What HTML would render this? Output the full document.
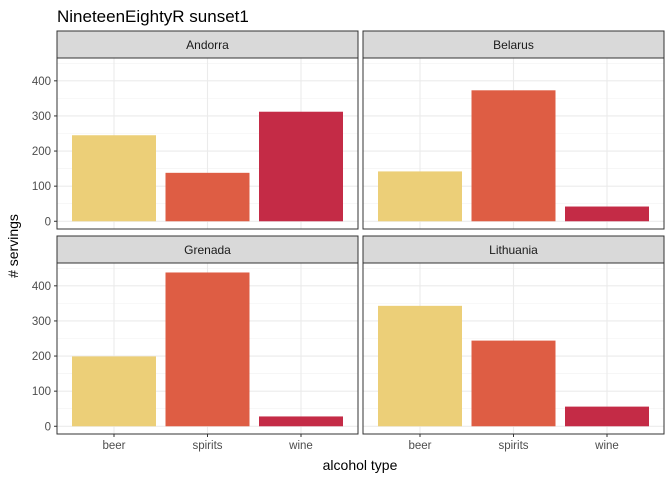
<!DOCTYPE html>
<html><head><meta charset="utf-8">
<style>
body{margin:0;background:#fff;}
svg{display:block;font-family:"Liberation Sans",sans-serif;}
</style></head>
<body>
<svg id="chart" width="672" height="480">
<text x="57" y="22" font-size="17" fill="#000">NineteenEightyR sunset1</text>
<text x="360" y="470" font-size="14" text-anchor="middle" fill="#000">alcohol type</text>
<text transform="translate(18,246) rotate(-90)" font-size="14" text-anchor="middle" fill="#000"># servings</text>
</svg>
<script>
const countries = ["Andorra","Belarus","Grenada","Lithuania"];
const categories = ["beer","spirits","wine"];
const beer = [245,142,199,343];
const spirits = [138,373,438,244];
const wine = [312,42,28,56];
const yTicks = [0,100,200,300,400];
const colors = ["#ECCF78","#DE5D44","#C42B46"];
const series=[beer,spirits,wine];
const svg=document.getElementById('chart');
const NS="http://www.w3.org/2000/svg";
function mk(t,a,p){const e=document.createElementNS(NS,t);for(const k in a)e.setAttribute(k,a[k]);(p||svg).appendChild(e);return e;}
const panels=[{x:57,y:58},{x:363,y:58},{x:57,y:263},{x:363,y:263}];
const PW=301,PH=171,yMax=465,yMin=-22;
countries.forEach((c,i)=>{
  const P=panels[i];
  const g=mk('g',{});
  
  
  const y=v=>P.y+PH-(v-yMin)/(yMax-yMin)*PH;
  const x=j=>P.x+PW/2+(j-1)*93.5;
  const strip=mk('rect',{x:P.x,y:P.y-27,width:PW,height:27,fill:'#D9D9D9',stroke:'#333','stroke-width':1},g);
  
  
  const st=mk('text',{x:P.x+PW/2,y:P.y-9,'font-size':12,'text-anchor':'middle',fill:'#1a1a1a'},g);
  st.textContent=c;
  mk('rect',{x:P.x,y:P.y,width:PW,height:PH,fill:'#fff'},g);
  for(let t=50;t<=450;t+=100) mk('line',{x1:P.x,x2:P.x+PW,y1:y(t),y2:y(t),stroke:'#F2F2F2','stroke-width':0.6},g);
  yTicks.forEach(t=>mk('line',{x1:P.x,x2:P.x+PW,y1:y(t),y2:y(t),stroke:'#EBEBEB','stroke-width':1.1},g));
  categories.forEach((k,j)=>mk('line',{x1:x(j),x2:x(j),y1:P.y,y2:P.y+PH,stroke:'#EBEBEB','stroke-width':1.1},g));
  categories.forEach((k,j)=>{
    const v=series[j][i];
    const b=mk('rect',{x:x(j)-42,y:y(v),width:84,height:y(0)-y(v),fill:colors[j]},g);
    
    
  });
  mk('rect',{x:P.x,y:P.y,width:PW,height:PH,fill:'none',stroke:'#333','stroke-width':1},g);
  if(i%2===0) yTicks.forEach(t=>{
    mk('line',{x1:P.x-3,x2:P.x,y1:y(t),y2:y(t),stroke:'#333'},g);
    const tx=mk('text',{x:P.x-6,y:y(t)+4,'font-size':11.5,'text-anchor':'end',fill:'#4d4d4d'},g);
    tx.textContent=t;
  });
  if(i>=2) categories.forEach((k,j)=>{
    mk('line',{x1:x(j),x2:x(j),y1:P.y+PH,y2:P.y+PH+3,stroke:'#333'},g);
    const tx=mk('text',{x:x(j),y:P.y+PH+15,'font-size':11.5,'text-anchor':'middle',fill:'#4d4d4d'},g);
    tx.textContent=k;
  });
});
</script>
</body></html>
